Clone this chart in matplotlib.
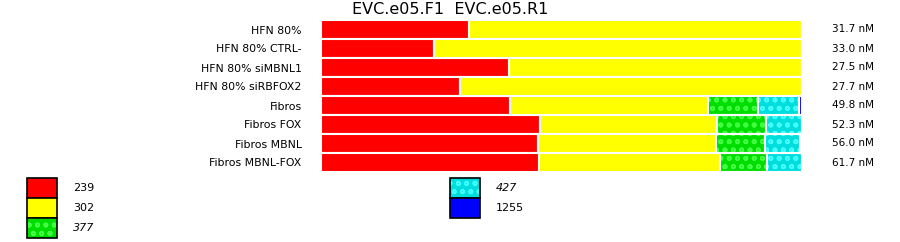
import matplotlib

matplotlib.use("Agg")
import matplotlib.pyplot as plt
import numpy as np
from matplotlib.patches import Rectangle

plt.rcParams["font.family"] = ["DejaVu Sans"]
plt.rcParams["hatch.linewidth"] = 1.2

TITLE = "EVC.e05.F1  EVC.e05.R1"
samples = [
    "HFN 80%", "HFN 80% CTRL-", "HFN 80% siMBNL1", "HFN 80% siRBFOX2",
    "Fibros", "Fibros FOX", "Fibros MBNL", "Fibros MBNL-FOX",
]
conc = ["31.7 nM", "33.0 nM", "27.5 nM", "27.7 nM",
        "49.8 nM", "52.3 nM", "56.0 nM", "61.7 nM"]

# fragment sizes (bp) and their share of each lane, in percent
sizes = ["239", "302", "377", "427", "1255"]
p239 = [30.8, 23.5, 39.1, 28.9, 39.2, 45.5, 45.1, 45.3]
p302 = [69.2, 76.5, 60.9, 71.1, 41.2, 36.8, 37.0, 37.7]
p377 = [0, 0, 0, 0, 10.4, 10.2, 10.2, 9.7]
p427 = [0, 0, 0, 0, 8.5, 7.5, 7.2, 7.3]
p1255 = [0, 0, 0, 0, 0.6, 0, 0.5, 0]

faces = ["#ff0000", "#ffff00", "#00dd00", "#00dddd", "#0000ff"]
dots = [None, None, "#44ff44", "#44ffff", None]
italic = [False, False, True, True, False]
HATCH = "oo"

fig = plt.figure(figsize=(9, 2.42), dpi=100)
ax = fig.add_axes([321 / 900, 1 - 172 / 242, 481 / 900, 152 / 242])

y = np.arange(len(samples))
left = np.zeros(len(samples))
for vals, fc, dc in zip([p239, p302, p377, p427, p1255], faces, dots):
    vals = np.array(vals)
    if dc is None:
        ax.barh(y, vals, left=left, height=1.0, color=fc, edgecolor="white", linewidth=1.5)
    else:
        ax.barh(y, vals, left=left, height=1.0, color=fc, edgecolor=dc, linewidth=0, hatch=HATCH)
        ax.barh(y, vals, left=left, height=1.0, color="none", edgecolor="white", linewidth=1.5)
    left += vals

ax.set_xlim(0, 100)
ax.set_ylim(len(samples) - 0.5, -0.5)
ax.set_yticks(y)
ax.set_yticklabels(samples, fontsize=7.8)
ax.tick_params(axis="y", length=0, pad=14)
ax.set_xticks([])
for s in ax.spines.values():
    s.set_visible(False)
for yi, c in zip(y, conc):
    ax.text(106.3, yi, c, va="center", ha="left", fontsize=7.5)
fig.text(0.5, 1 - 10 / 242, TITLE, fontsize=11.5, ha="center", va="center")

# legend
lg = fig.add_axes([0, 0, 1, 1])
lg.set_xlim(0, 900)
lg.set_ylim(242, 0)
lg.axis("off")
for i, (lab, fc, dc, it) in enumerate(zip(sizes, faces, dots, italic)):
    col, row = divmod(i, 3)
    x0 = 27 + col * 423
    y0 = 178 + row * 20
    if dc is None:
        lg.add_patch(Rectangle((x0, y0), 30, 20, facecolor=fc, edgecolor="black", linewidth=1.2))
    else:
        lg.add_patch(Rectangle((x0, y0), 30, 20, facecolor=fc, edgecolor=dc, linewidth=0, hatch=HATCH))
        lg.add_patch(Rectangle((x0, y0), 30, 20, facecolor="none", edgecolor="black", linewidth=1.2))
    lg.text(x0 + 46, y0 + 10, lab, va="center", ha="left", fontsize=8,
            style="italic" if it else "normal")

fig.savefig("out.png", dpi=100)
